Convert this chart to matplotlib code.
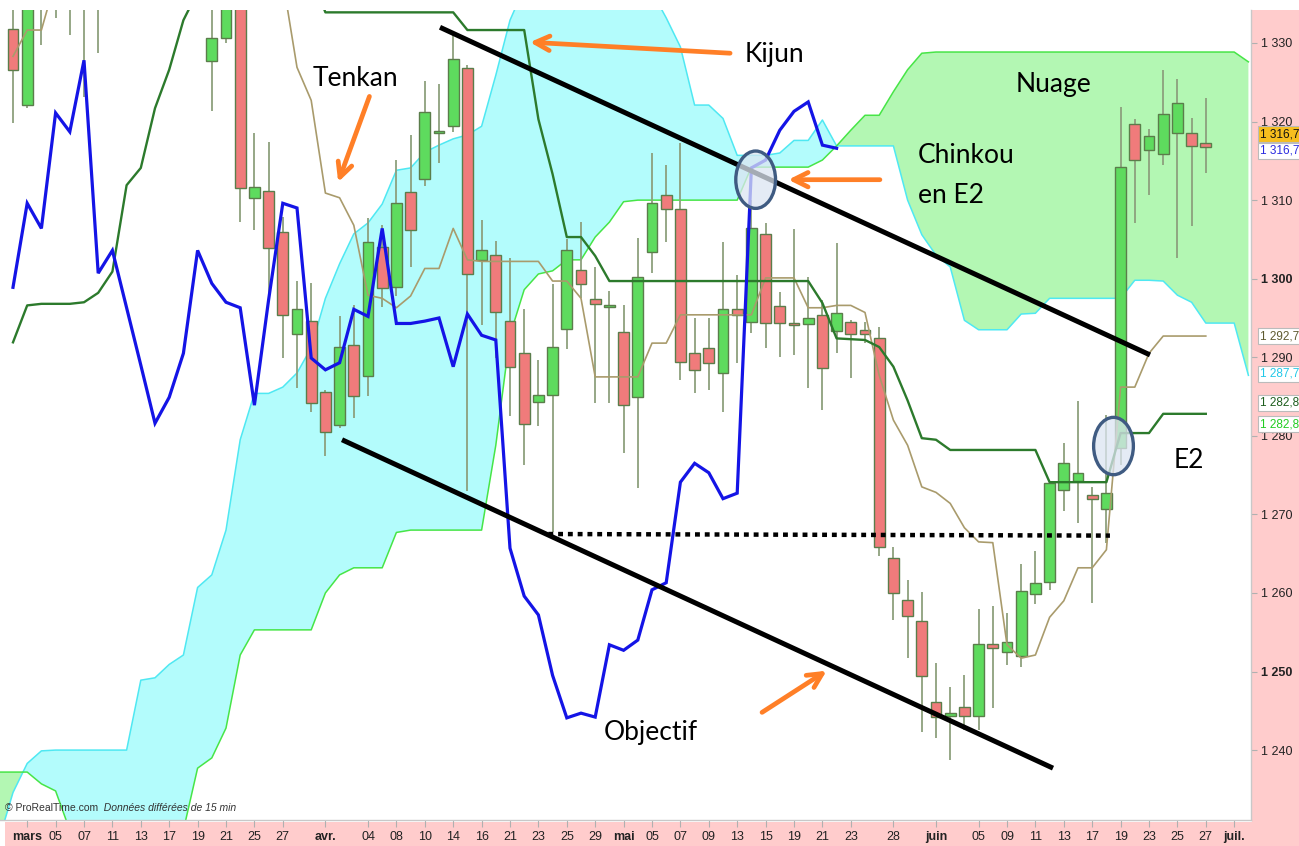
import numpy as np
import matplotlib
matplotlib.use("Agg")
import matplotlib.pyplot as plt
from matplotlib.patches import Ellipse, Rectangle
import matplotlib.transforms as mtransforms

# ---------------- data ----------------
opens = [1331.8, 1322.1, 1336.5, 1337.0, 1338.0, 1336.0, 1340.0, 1340, 1344, 1341, 1346, 1343, 1340, 1338,
         1327.7, 1330.6, 1337.0, 1310.3, 1311.2, 1305.9, 1292.9, 1294.6, 1285.6, 1281.4, 1291.6, 1287.6,
         1304.0, 1298.9, 1311.0, 1312.7, 1318.5, 1319.4, 1326.8, 1302.4, 1303.0, 1294.6, 1290.5, 1284.3,
         1285.2, 1293.6, 1301.1, 1297.4, 1296.4, 1293.2, 1284.9, 1303.4, 1310.6, 1308.9, 1290.5, 1291.2,
         1288.0, 1296.1, 1294.5, 1305.7, 1296.5, 1294.4, 1294.2, 1295.4, 1293.3, 1294.5, 1293.5, 1292.4,
         1264.4, 1259.1, 1256.4, 1246.1, 1244.3, 1245.5, 1244.3, 1253.5, 1252.5, 1252.0, 1259.9, 1261.4,
         1273.1, 1274.2, 1272.5, 1270.7, 1278.5, 1319.7, 1316.4, 1315.9, 1318.5, 1318.5, 1317.3]
highs = [1337.0, 1339.0, 1341.0, 1342.0, 1342.0, 1343.0, 1344.0, 1346, 1349, 1347, 1350, 1348, 1345, 1342,
         1335.0, 1339.0, 1338.0, 1318.5, 1317.4, 1307.8, 1299.7, 1299.4, 1285.8, 1295.2, 1296.6, 1307.7,
         1306.8, 1315.1, 1318.3, 1325.2, 1324.8, 1331.0, 1327.2, 1307.5, 1304.8, 1302.6, 1296.1, 1289.6,
         1299.3, 1305.0, 1307.2, 1301.5, 1298.4, 1296.6, 1305.2, 1316.0, 1314.5, 1317.3, 1295.0, 1295.0,
         1304.7, 1300.5, 1310.0, 1307.1, 1298.3, 1306.3, 1300.2, 1297.3, 1304.5, 1294.7, 1294.5, 1293.8,
         1265.8, 1261.6, 1260.1, 1251.1, 1248.0, 1249.5, 1258.0, 1258.3, 1257.4, 1263.7, 1265.3, 1274.0,
         1279.1, 1284.4, 1273.5, 1282.6, 1321.9, 1320.3, 1319.0, 1326.6, 1325.4, 1320.4, 1323.0]
lows = [1319.8, 1321.7, 1329.7, 1333.2, 1331.0, 1323.1, 1328.7, 1335.5, 1339, 1337, 1341, 1338, 1336, 1335,
        1321.3, 1330.0, 1307.2, 1306.2, 1297.9, 1289.9, 1286.1, 1283.0, 1277.4, 1281.0, 1282.3, 1285.1,
        1296.4, 1297.8, 1301.5, 1311.8, 1314.7, 1318.7, 1273.0, 1294.1, 1289.9, 1282.5, 1276.3, 1281.2,
        1267.7, 1291.0, 1297.5, 1284.2, 1284.2, 1277.8, 1273.4, 1300.7, 1304.7, 1287.1, 1285.4, 1285.8,
        1283.0, 1289.3, 1293.1, 1291.2, 1290.0, 1290.3, 1286.1, 1283.3, 1290.5, 1287.4, 1291.8, 1264.7,
        1256.5, 1251.7, 1242.3, 1241.5, 1238.7, 1242.5, 1242.5, 1245.3, 1250.8, 1250.6, 1258.6, 1260.4,
        1270.4, 1268.9, 1258.7, 1266.4, 1276.3, 1307.1, 1310.6, 1314.5, 1302.6, 1306.7, 1313.5]
closes = [1326.6, 1337.0, 1339.0, 1340.0, 1336.0, 1339.0, 1338.0, 1344, 1341, 1346, 1343, 1340, 1338, 1336,
          1330.6, 1337.0, 1311.5, 1311.7, 1303.9, 1295.4, 1296.1, 1284.2, 1280.5, 1291.3, 1285.1, 1304.7,
          1298.8, 1309.6, 1306.2, 1321.2, 1318.6, 1328.0, 1300.6, 1303.6, 1295.8, 1288.8, 1281.5, 1285.2,
          1291.3, 1303.6, 1299.3, 1296.8, 1296.5, 1283.9, 1300.2, 1309.6, 1308.9, 1289.4, 1288.4, 1289.3,
          1296.1, 1295.4, 1306.4, 1294.4, 1294.4, 1294.1, 1295.0, 1288.6, 1295.6, 1293.0, 1293.0, 1265.9,
          1260.0, 1257.1, 1249.4, 1244.2, 1244.7, 1244.3, 1253.5, 1253.0, 1253.7, 1260.2, 1261.3, 1274.0,
          1276.5, 1275.3, 1272.0, 1272.7, 1314.2, 1315.1, 1318.2, 1321.0, 1322.4, 1316.9, 1316.7]

tenkan = [1328.3, 1331.65, 1331.65, 1338, 1338, 1338, 1338, 1338, 1338, 1338, 1338, 1338, 1338, 1338,
          1338, 1338, 1338, 1338, 1338, 1338, 1326.9, 1322.7, 1310.9, 1310.3, 1306.8, 1297.9, 1297.5,
          1296.3, 1297.8, 1301.3, 1301.3, 1306.4, 1302.4, 1302.2, 1302.2, 1302.2, 1302.2, 1302.2, 1299.7,
          1299.7, 1297.5, 1287.5, 1287.5, 1287.5, 1287.5, 1291.8, 1291.8, 1295.4, 1295.4, 1295.4, 1295.4,
          1295.4, 1295.4, 1300.1, 1300.1, 1300.1, 1296.3, 1296.3, 1296.6, 1296.6, 1295.7, 1287.7, 1282.0,
          1278.8, 1273.5, 1272.8, 1271.4, 1268.3, 1266.5, 1266.4, 1253.4, 1251.7, 1252.1, 1256.9, 1259.0,
          1263.2, 1263.2, 1265.5, 1286.2, 1286.2, 1290.5, 1292.7, 1292.7, 1292.7, 1292.7]
kijun = [1291.9, 1296.6, 1296.8, 1296.8, 1296.8, 1297.0, 1298.2, 1300.9, 1311.9, 1314.1, 1321.7, 1326.6,
         1332.9, 1336.5, 1338.5, 1338.5, 1338.5, 1338.5, 1338.5, 1338.5, 1338.5, 1338.5, 1333.9, 1333.9,
         1333.9, 1333.9, 1333.9, 1333.9, 1333.9, 1333.9, 1333.9, 1333.9, 1331.65, 1331.65, 1331.65,
         1331.65, 1331.65, 1320.3, 1313.3, 1305.3, 1305.3, 1302.9, 1299.7, 1299.7, 1299.7, 1299.7, 1299.7,
         1299.7, 1299.7, 1299.7, 1299.7, 1299.7, 1299.7, 1299.7, 1299.7, 1299.7, 1299.7, 1296.9, 1292.4,
         1292.3, 1292.2, 1291.3, 1288.8, 1284.5, 1279.7, 1279.5, 1278.2, 1278.2, 1278.2, 1278.2, 1278.2,
         1278.2, 1278.2, 1274.1, 1274.1, 1274.1, 1274.1, 1274.1, 1280.35, 1280.35, 1280.35, 1282.8,
         1282.8, 1282.8, 1282.8]
chinkou = [1298.9, 1309.6, 1306.4, 1321.1, 1318.7, 1327.8, 1300.7, 1303.6, 1296.3, 1289.0, 1281.6, 1284.9,
           1290.5, 1303.6, 1299.4, 1297.0, 1296.3, 1283.9, 1297.3, 1309.6, 1309.0, 1289.9, 1288.4, 1289.3,
           1296.1, 1295.2, 1306.4, 1294.3, 1294.3, 1294.6, 1295.0, 1288.8, 1295.5, 1292.8, 1292.2, 1265.7,
           1259.6, 1257.2, 1249.5, 1244.1, 1244.7, 1244.2, 1253.4, 1252.7, 1254.0, 1260.4, 1261.3, 1274.1,
           1276.5, 1275.3, 1272.0, 1272.7, 1314.1, 1315.1, 1318.9, 1321.3, 1322.5, 1317.0, 1316.6]
# cloud lines start one period before the first candle
senkou_a = [1228.5, 1234.6, 1238.3, 1239.9, 1240.0, 1240.0, 1240.0, 1240.0, 1240.0, 1240.0, 1248.9, 1249.2,
            1250.9, 1252.1, 1260.7, 1262.3, 1268.0, 1279.5, 1285.4, 1285.4, 1286.2, 1288.0, 1291.2, 1297.5,
            1301.9, 1305.7, 1307.1, 1309.5, 1313.8, 1314.1, 1316.1, 1317.0, 1317.8, 1318.3, 1319.4, 1325.9,
            1332.9, 1337, 1339, 1340, 1340, 1340, 1340, 1340, 1339, 1338, 1336.5, 1333.2, 1329.5, 1322.1,
            1322.1, 1320.4, 1315.7, 1315.7, 1315.7, 1316.0, 1317.6, 1317.6, 1320.2, 1316.9, 1316.9, 1316.9,
            1316.9, 1316.9, 1310.0, 1305.6, 1303.0, 1301.5, 1294.7, 1293.5, 1293.5, 1293.5, 1295.5, 1295.6,
            1297.5, 1297.5, 1297.5, 1297.5, 1297.5, 1297.5, 1299.8, 1299.8, 1299.7, 1297.9, 1297.0, 1294.35,
            1294.35, 1294.35, 1287.7]
senkou_b = [1237.2, 1237.2, 1237.2, 1235.7, 1234.8, 1229.8, 1227.3, 1227.3, 1227.3, 1227.3, 1227.3, 1227.3,
            1227.3, 1229.8, 1237.7, 1239.0, 1242.8, 1252.1, 1255.3, 1255.3, 1255.3, 1255.3, 1255.3, 1260.0,
            1262.3, 1263.2, 1263.2, 1263.2, 1267.7, 1268.0, 1268.0, 1268.0, 1268.0, 1268.0, 1268.0, 1278.8,
            1292.8, 1298.6, 1300.6, 1301.0, 1302.4, 1302.4, 1305.3, 1307.2, 1309.8, 1310.0, 1310.0, 1310.0,
            1310.0, 1310.0, 1310.0, 1310.0, 1310.0, 1314.2, 1314.2, 1314.2, 1314.2, 1314.2, 1315.1, 1316.9,
            1318.9, 1320.8, 1320.8, 1323.8, 1326.6, 1328.7, 1328.85, 1328.85, 1328.85, 1328.85, 1328.85,
            1328.85, 1328.85, 1328.85, 1328.85, 1328.85, 1328.85, 1328.85, 1328.85, 1328.85, 1328.85,
            1328.85, 1328.85, 1328.85, 1328.85, 1328.85, 1328.85, 1328.85, 1327.6]

xtick_pos = [1, 3, 5, 7, 9, 11, 13, 15, 17, 19, 22, 25, 27, 29, 31, 33, 35, 37, 39, 41, 43, 45, 47, 49,
             51, 53, 55, 57, 59, 62, 65, 68, 70, 72, 74, 76, 78, 80, 82, 84, 86]
xtick_labels = ["mars", "05", "07", "11", "13", "17", "19", "21", "25", "27", "avr.", "04", "08", "10",
                "14", "16", "21", "23", "25", "29", "mai", "05", "07", "09", "13", "15", "19", "21", "23",
                "28", "juin", "05", "09", "11", "13", "17", "19", "23", "25", "27", "juil."]
month_names = ["mars", "avr.", "mai", "juin", "juil."]
ytick_vals = [1240, 1250, 1260, 1270, 1280, 1290, 1300, 1310, 1320, 1330]
bold_yticks = [1250, 1300]

# ---------------- figure ----------------
W, H = 1299, 846
NARROW = ["Liberation Sans Narrow", "Liberation Sans", "DejaVu Sans"]
ANNOT = ["Lato", "DejaVu Sans"]

fig = plt.figure(figsize=(W / 100, H / 100), dpi=100, facecolor="white")
pink = "#FFCCCC"
fig.patches.append(Rectangle((1252 / W, 0), (W - 1252) / W, 836 / H, transform=fig.transFigure,
                             facecolor=pink, edgecolor="none", zorder=-5))
fig.patches.append(Rectangle((5 / W, 0), (W - 5) / W, 24 / H, transform=fig.transFigure,
                             facecolor=pink, edgecolor="none", zorder=-5))

ax = fig.add_axes([0, 26 / H, 1251 / W, 810 / H])
ax.set_facecolor("white")

n = len(closes)
xi = np.arange(n)
xc = np.arange(-1, len(senkou_a) - 1)
sa = np.array(senkou_a)
sb = np.array(senkou_b)

# cloud
ax.fill_between(xc, sa, sb, where=sa >= sb, interpolate=True, facecolor="#B3FCFC", edgecolor="none", zorder=1)
ax.fill_between(xc, sa, sb, where=sb >= sa, interpolate=True, facecolor="#B3F7B3", edgecolor="none", zorder=1)
ax.plot(xc, sa, color="#4FE8F2", lw=1.1, zorder=2)
ax.plot(xc, sb, color="#47E547", lw=1.1, zorder=2)

# candles
o = np.array(opens); c = np.array(closes); h = np.array(highs); l = np.array(lows)
up = c >= o
ax.vlines(xi, l, h, color="#8DA07D", lw=1.3, zorder=3)
bottoms = np.minimum(o, c)
heights = np.maximum(np.abs(c - o), 0.3)
body_col = np.where(up, "#5EDB5E", "#F07B7B")
ax.bar(xi, heights, bottom=bottoms, width=0.76, color=body_col, edgecolor="#5B7D4B", linewidth=1.0, zorder=4)

# ichimoku lines
ax.plot(xi, tenkan, color="#A99B6C", lw=1.2, zorder=5)
ax.plot(xi, kijun, color="#2C7A2C", lw=1.7, zorder=5)
ax.plot(np.arange(len(chinkou)), chinkou, color="#1414E6", lw=2.3, zorder=6, solid_joinstyle="miter")

# channel lines & target
ax.plot([30.07, 80.07], [1332.0, 1290.3], color="black", lw=3.6, solid_capstyle="butt", zorder=7)
ax.plot([23.17, 73.24], [1279.5, 1237.7], color="black", lw=3.6, solid_capstyle="butt", zorder=7)
ax.plot([37.7, 77.25], [1267.5, 1267.3], color="black", lw=3.2, linestyle=(0, (1.1, 1.1)), zorder=7)

# ellipses
for cx, cy in [(52.3, 1312.6), (77.5, 1278.7)]:
    ax.add_patch(Ellipse((cx, cy), 2.8, 7.3, facecolor="#DCE5F2", alpha=0.75, edgecolor="none", zorder=8))
    ax.add_patch(Ellipse((cx, cy), 2.8, 7.3, facecolor="none", edgecolor="#3F5B82", lw=2.4, zorder=8))

# orange arrows
orange = "#FF7F27"
arrows = [((25.1, 1323.2), (22.9, 1312.3)),
          ((50.5, 1328.7), (36.4, 1330.1)),
          ((61.05, 1312.6), (54.6, 1312.6)),
          ((52.75, 1244.8), (57.3, 1250.1))]
for tail, head in arrows:
    ax.annotate("", xy=head, xytext=tail,
                arrowprops=dict(arrowstyle="->", color=orange, lw=3.4, mutation_scale=26,
                                shrinkA=0, shrinkB=0), zorder=9)

# texts
tkw = dict(fontsize=19, family=ANNOT, color="black", va="center", ha="left", zorder=10)
ax.text(21.1, 1325.5, "Tenkan", **tkw)
ax.text(51.5, 1328.5, "Kijun", **tkw)
ax.text(70.6, 1324.7, "Nuage", **tkw)
ax.text(63.7, 1315.7, "Chinkou", **tkw)
ax.text(63.7, 1310.6, "en E2", **tkw)
ax.text(81.7, 1276.9, "E2", **tkw)
ax.text(41.6, 1242.3, "Objectif", **tkw)

# axes styling
ax.set_xlim((0 - 13) / 14.2, (1251 - 13) / 14.2)
ax.set_ylim(1231.1, 1334.2)
for s in ["top", "left"]:
    ax.spines[s].set_visible(False)
for s in ["right", "bottom"]:
    ax.spines[s].set_color("#C8C8C8")
    ax.spines[s].set_linewidth(1.0)

ax.yaxis.tick_right()
ax.set_yticks(ytick_vals)
ax.set_yticklabels(["1 %03d" % (v - 1000) for v in ytick_vals])
ax.tick_params(axis="y", length=4, color="#B0B0B0", pad=3, labelsize=9, labelcolor="#222222")
for lab, v in zip(ax.get_yticklabels(), ytick_vals):
    lab.set_family(NARROW)
    if v in bold_yticks:
        lab.set_fontweight("bold")

ax.set_xticks(xtick_pos)
ax.set_xticklabels(xtick_labels)
ax.tick_params(axis="x", length=5, color="#B0B0B0", pad=3, labelsize=9, labelcolor="#222222")
for lab in ax.get_xticklabels():
    lab.set_family(NARROW)
    if lab.get_text() in month_names:
        lab.set_fontweight("bold")

# value labels on the price axis
trans = mtransforms.blended_transform_factory(ax.transAxes, ax.transData)
value_labels = [
    (1318.4, "1 316,7", "#111111", "#F6BE1E"),
    (1316.3, "1 316,7", "#2A2AE0", "white"),
    (1292.7, "1 292,7", "#5E5A30", "white"),
    (1287.9, "1 287,7", "#22C8E8", "white"),
    (1284.2, "1 282,8", "#1E5E1E", "white"),
    (1281.5, "1 282,8", "#22CC22", "white"),
]
for yv, txt, tc, fc in value_labels:
    ax.text(1.0075, yv, txt, transform=trans, fontsize=8.5, family=NARROW, color=tc, va="center",
            ha="left", clip_on=False, zorder=12,
            bbox=dict(boxstyle="square,pad=0.18", facecolor=fc, edgecolor="#BBBBBB", linewidth=0.8))

# watermark
wm = fig.text(5 / W, (846 - 808) / H, "© ProRealTime.com", fontsize=7.5, family=NARROW, color="#333333",
              va="center", ha="left")
fig.text(0, 0, "", fontsize=1)
ann = plt.annotate("  Données différées de 15 min", xy=(1, 0.5), xycoords=wm, fontsize=7.5,
                   family=NARROW, color="#333333", style="italic", va="center", ha="left",
                   annotation_clip=False)

fig.savefig("out.png", dpi=100, facecolor="white")
